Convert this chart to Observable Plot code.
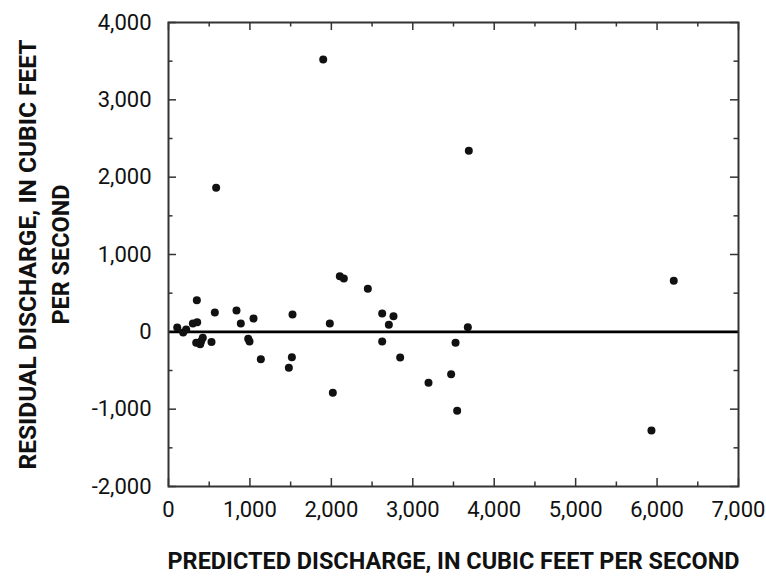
<!DOCTYPE html>
<html>
<head>
<meta charset="utf-8">
<script src="https://cdn.jsdelivr.net/npm/d3@7"></script>
<script src="https://cdn.jsdelivr.net/npm/@observablehq/plot@0.6"></script>
<style>
  html, body { margin: 0; padding: 0; background: #fff; }
  #chart svg { display: block; }
</style>
</head>
<body>
<div id="chart"></div>
<script>
// Predicted discharge (x) and residual discharge (y), cubic feet per second
const predicted = [107, 180, 217, 299, 348, 352, 340, 389, 401, 421, 528, 569, 585, 835, 888, 979, 995, 1044, 1134, 1478, 1515, 1523, 1900, 1981, 2018, 2104, 2153, 2448, 2624, 2624, 2706, 2763, 2845, 3193, 3471, 3525, 3545, 3676, 3688, 5931, 6205];
const residual  = [56, -9, 30, 107, 409, 124, -142, -160, -121, -78, -130, 250, 1862, 275, 107, -91, -125, 172, -354, -466, -328, 224, 3521, 107, -789, 719, 689, 556, 237, -125, 90, 202, -332, -660, -548, -142, -1022, 60, 2340, -1276, 659];

const xMajorTicks = [0, 1000, 2000, 3000, 4000, 5000, 6000, 7000];
const xMinorTicks = [500, 1500, 2500, 3500, 4500, 5500, 6500];
const yMajorTicks = [-2000, -1000, 0, 1000, 2000, 3000, 4000];
const yMinorTicks = [-1500, -500, 500, 1500, 2500, 3500];
const zeroLine = [0];

const xTitle = "PREDICTED DISCHARGE, IN CUBIC FEET PER SECOND";
const yTitle1 = "RESIDUAL DISCHARGE, IN CUBIC FEET";
const yTitle2 = "PER SECOND";

const points = predicted.map((p, i) => ({predicted: p, residual: residual[i]}));

const W = 766, H = 586;
const mL = 168, mR = 28, mT = 22, mB = 100;
const plotW = W - mL - mR, plotH = H - mT - mB;
const major = 8, minor = 4.5;
const fmt = d => d.toLocaleString("en-US");
const font = "Roboto, 'Liberation Sans', sans-serif";

const chart = Plot.plot({
  width: W,
  height: H,
  marginLeft: mL,
  marginRight: mR,
  marginTop: mT,
  marginBottom: mB,
  style: {fontFamily: font, fontSize: "22px", background: "#fff", color: "#111"},
  x: {domain: [0, 7000]},
  y: {domain: [-2000, 4000]},
  marks: [
    // tick labels
    Plot.axisX(xMajorTicks, {anchor: "bottom", tickSize: 0, tickPadding: 15, tickFormat: fmt, label: null, fontSize: 22}),
    Plot.axisY(yMajorTicks, {anchor: "left", tickSize: 0, tickPadding: 17, tickFormat: fmt, label: null, fontSize: 22}),
    // inward ticks on all four sides
    Plot.tickX(xMajorTicks, {x: d => d, insetTop: plotH - major, stroke: "#333", strokeWidth: 1.5}),
    Plot.tickX(xMajorTicks, {x: d => d, insetBottom: plotH - major, stroke: "#333", strokeWidth: 1.5}),
    Plot.tickX(xMinorTicks, {x: d => d, insetTop: plotH - minor, stroke: "#333", strokeWidth: 1.5}),
    Plot.tickX(xMinorTicks, {x: d => d, insetBottom: plotH - minor, stroke: "#333", strokeWidth: 1.5}),
    Plot.tickY(yMajorTicks, {y: d => d, insetRight: plotW - major, stroke: "#333", strokeWidth: 1.5}),
    Plot.tickY(yMajorTicks, {y: d => d, insetLeft: plotW - major, stroke: "#333", strokeWidth: 1.5}),
    Plot.tickY(yMinorTicks, {y: d => d, insetRight: plotW - minor, stroke: "#333", strokeWidth: 1.5}),
    Plot.tickY(yMinorTicks, {y: d => d, insetLeft: plotW - minor, stroke: "#333", strokeWidth: 1.5}),
    // zero reference line
    Plot.ruleY(zeroLine, {y: d => d, stroke: "#000", strokeWidth: 2.8}),
    Plot.frame({stroke: "#333", strokeWidth: 2}),
    // data points
    Plot.dot(points, {x: "predicted", y: "residual", r: 4, fill: "#111", stroke: "none"}),
    // axis titles
    Plot.text([xTitle], {text: d => d, frameAnchor: "bottom", textAnchor: "middle", dy: 82, fontWeight: "bold", fontSize: 23, fill: "#111"}),
    Plot.text([yTitle1], {text: d => d, frameAnchor: "left", textAnchor: "middle", dx: -140, rotate: -90, fontWeight: "bold", fontSize: 23, fill: "#111"}),
    Plot.text([yTitle2], {text: d => d, frameAnchor: "left", textAnchor: "middle", dx: -107, rotate: -90, fontWeight: "bold", fontSize: 23, fill: "#111"})
  ]
});
document.getElementById("chart").appendChild(chart);
// condense the bold titles to the reference's narrow type widths
d3.select(chart).selectAll("text").each(function () {
  const t = this.textContent;
  const len = t === xTitle ? 572 : t === yTitle1 ? 430 : t === yTitle2 ? 140 : null;
  if (len) d3.select(this).attr("textLength", len).attr("lengthAdjust", "spacingAndGlyphs");
});
</script>
</body>
</html>
